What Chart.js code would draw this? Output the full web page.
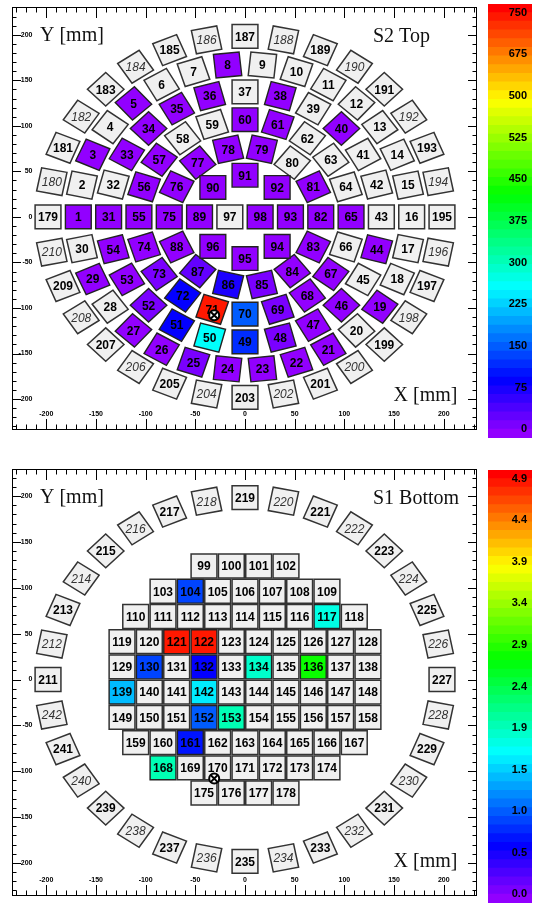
<!DOCTYPE html>
<html>
<head>
<meta charset="utf-8">
<script src="https://cdn.jsdelivr.net/npm/chart.js@4/dist/chart.umd.min.js"></script>
<style>
  html, body { margin: 0; padding: 0; background: #fff; width: 540px; height: 903px; overflow: hidden; }
  canvas { position: absolute; }
</style>
</head>
<body>
<canvas id="topMap" width="484" height="445" style="left:0px;top:0px"></canvas>
<canvas id="topBar" width="56" height="445" style="left:484px;top:0px"></canvas>
<canvas id="botMap" width="484" height="458" style="left:0px;top:445px"></canvas>
<canvas id="botBar" width="56" height="458" style="left:484px;top:445px"></canvas>
<script>
// ---- PMT array geometry (mm) ----
// Top array: concentric rings, numbered clockwise starting at 180 degrees
const topRingFirst  = [1, 31, 55, 75, 89, 97];
const topRingCount  = [30, 24, 20, 14, 8, 2];
const topRingRadius = [167.75, 137.25, 106.75, 76.25, 45.75, 15.25];
const topRingTilted = [true, true, true, true, false, false];
// Veto rings around each array
const vetoRadius = 198.25;
const vetoCount = 32;
const topVetoFirst = 179;
const bottomVetoFirst = 211;
// Bottom array: rows of a square grid, top row first
const bottomRowFirst = [99, 103, 110, 119, 129, 139, 149, 159, 168, 175];
const bottomRowCount = [4, 7, 9, 10, 10, 10, 10, 9, 7, 4];
const bottomPitch = 27.5;

// ---- Signals per PMT (null = no signal) ----
// S2 top, PMTs 1..98
const topS2 = [
  0, null, 0, null, 0, null, null, 0, null, null,        // 1-10
  null, null, null, null, null, null, null, null, 0, null, // 11-20
  0, 0, 0, 0, 7, 0, 0, null, 0, null,                    // 21-30
  0, null, 0, 0, 0, 0, null, 0, null, 0,                 // 31-40
  null, null, null, 0, null, 0, 0, 10, 117, 258,         // 41-50
  80, 11, 0, 0, 0, 0, 0, null, null, 0,                  // 51-60
  0, null, null, null, 0, null, 0, 0, 9, 150,            // 61-70
  742, 85, 10, 0, 0, 0, 0, 0, 0, null,                   // 71-80
  0, 0, 0, 0, 12, 68, 20, 0, 0, 0,                       // 81-90
  0, 0, 0, 0, 0, 0, null, 0                              // 91-98
];
// S1 bottom, PMTs 99..178
const bottomS1 = [
  null, null, null, null,                                        // 99-102
  null, 0.87, null, null, null, null, null,                      // 103-109
  null, null, null, null, null, null, null, 1.79, null,          // 110-118
  null, null, 4.85, 4.82, null, null, null, null, null, null,    // 119-128
  null, 0.85, null, 0.57, null, 1.89, null, 2.8, null, null,     // 129-138
  1.38, null, null, 1.58, null, null, null, null, null, null,    // 139-148
  null, null, null, 0.97, 1.99, null, null, null, null, null,    // 149-158
  null, null, 0.69, null, null, null, null, null, null,          // 159-167
  2.0, null, null, null, null, null, null,                       // 168-174
  null, null, null, null                                         // 175-178
];

// Source position (mm)
const sourceX = [-31];
const sourceY = [-108];

// Axis ranges (mm) and tick labels
const xRange = [-234.5, 233.5];
const topYRange = [-234, 230.5];
const bottomYRange = [-236, 229.5];
const axisLabels = [-200, -150, -100, -50, 0, 50, 100, 150, 200];

// Colour scales: 48 bands between the end labels plus one band beyond each end
const topZTicks  = [0, 75, 150, 225, 300, 375, 450, 525, 600, 675, 750];
const topZLabels = ['0', '75', '150', '225', '300', '375', '450', '525', '500', '675', '750'];
const bottomZTicks  = [0, 0.49, 0.98, 1.47, 1.96, 2.45, 2.94, 3.43, 3.92, 4.41, 4.9];
const bottomZLabels = ['0.0', '0.5', '1.0', '1.5', '1.9', '2.4', '2.9', '3.4', '3.9', '4.4', '4.9'];

// ---- styling ----
const PMT_SIZE = 26;
const NBANDS = 50;
const palette = Array.from({ length: NBANDS }, (_, i) => `hsl(${280 - (i + 1) * 5.6}, 100%, 50%)`);
const OFF_FILL = '#f0f0f0';
const SANS = '"Liberation Sans", Arial, sans-serif';
const SERIF = '"Liberation Serif", "Times New Roman", serif';

function zLimits(ticks) {
  const top = ticks[ticks.length - 1];
  const w = top / 48;
  return [-w, top + w];
}
function bandOf(v, lim) {
  const w = (lim[1] - lim[0]) / NBANDS;
  return Math.min(NBANDS - 1, Math.max(0, Math.ceil((v - lim[0]) / w - 1e-9) - 1));
}

// ---- build PMT lists ----
function ringPmts(first, count, radius, tilted, values, valueOffset) {
  const out = [];
  for (let k = 0; k < count; k++) {
    const ang = 180 - 360 / count * k;
    const a = ang * Math.PI / 180;
    const id = first + k;
    const v = values ? values[id - valueOffset] : null;
    out.push({ x: radius * Math.cos(a), y: radius * Math.sin(a), id, v: v === undefined ? null : v,
               rot: tilted ? ang : 0 });
  }
  return out;
}

const topPmts = [];
for (let r = 0; r < topRingFirst.length; r++) {
  topPmts.push(...ringPmts(topRingFirst[r], topRingCount[r], topRingRadius[r], topRingTilted[r], topS2, 1));
}
ringPmts(topVetoFirst, vetoCount, vetoRadius, true, null, 0).forEach(p => { p.italic = p.id % 2 === 0; topPmts.push(p); });

const bottomPmts = [];
for (let r = 0; r < bottomRowFirst.length; r++) {
  const n = bottomRowCount[r];
  const y = bottomPitch * ((bottomRowFirst.length - 1) / 2 - r);
  for (let j = 0; j < n; j++) {
    const id = bottomRowFirst[r] + j;
    bottomPmts.push({ x: bottomPitch * (j - (n - 1) / 2), y, id, v: bottomS1[id - 99], rot: 0 });
  }
}
ringPmts(bottomVetoFirst, vetoCount, vetoRadius, true, null, 0).forEach(p => { p.italic = p.id % 2 === 0; bottomPmts.push(p); });

const sourcePoints = sourceX.map((x, i) => ({ x, y: sourceY[i] }));

// ---- PMT map chart ----
function makeMap(canvasId, pmts, yRange, zTicks, pad, panelTitle) {
  const lim = zLimits(zTicks);

  const boxPlugin = {
    id: 'pmtBoxes',
    beforeDatasetsDraw(chart) {
      const ctx = chart.ctx, xs = chart.scales.x, ys = chart.scales.y;
      const h = PMT_SIZE / 2;
      const pts = chart.data.datasets[0].data;
      ctx.save();
      for (const p of pts) {
        const a = p.rot * Math.PI / 180, c = Math.cos(a), s = Math.sin(a);
        ctx.beginPath();
        [[-h, -h], [h, -h], [h, h], [-h, h]].forEach(([u, w], i) => {
          const px = xs.getPixelForValue(p.x + u * c - w * s);
          const py = ys.getPixelForValue(p.y + u * s + w * c);
          if (i === 0) ctx.moveTo(px, py); else ctx.lineTo(px, py);
        });
        ctx.closePath();
        ctx.fillStyle = p.v === null ? OFF_FILL : palette[bandOf(p.v, lim)];
        ctx.fill();
        ctx.lineWidth = p.v === null ? 1.5 : 1.4;
        ctx.strokeStyle = p.v === null ? '#333' : '#222';
        ctx.stroke();
        ctx.font = p.italic ? `italic 12px ${SANS}` : `bold 12px ${SANS}`;
        ctx.fillStyle = p.italic ? '#333' : '#000';
        ctx.textAlign = 'center';
        ctx.textBaseline = 'middle';
        ctx.fillText(String(p.id), xs.getPixelForValue(p.x), ys.getPixelForValue(p.y) + 1);
      }
      ctx.restore();
    }
  };

  const framePlugin = {
    id: 'frame',
    afterDraw(chart) {
      const ctx = chart.ctx, xs = chart.scales.x, ys = chart.scales.y, ca = chart.chartArea;
      ctx.save();
      ctx.strokeStyle = '#000';
      ctx.lineWidth = 1;
      ctx.strokeRect(ca.left + 0.5, ca.top + 0.5, ca.right - ca.left - 1, ca.bottom - ca.top - 1);
      ctx.beginPath();
      for (let v = Math.ceil(xRange[0] / 10) * 10; v <= xRange[1]; v += 10) {
        const px = Math.round(xs.getPixelForValue(v)) + 0.5;
        const len = v % 50 === 0 ? 11 : 5.5;
        ctx.moveTo(px, ca.bottom); ctx.lineTo(px, ca.bottom - len);
        ctx.moveTo(px, ca.top); ctx.lineTo(px, ca.top + len);
      }
      for (let v = Math.ceil(yRange[0] / 10) * 10; v <= yRange[1]; v += 10) {
        const py = Math.round(ys.getPixelForValue(v)) + 0.5;
        const len = v % 50 === 0 ? 9 : 4.5;
        ctx.moveTo(ca.left, py); ctx.lineTo(ca.left + len, py);
        ctx.moveTo(ca.right, py); ctx.lineTo(ca.right - len, py);
      }
      ctx.stroke();

      ctx.fillStyle = '#000';
      ctx.font = `bold 7px ${SANS}`;
      ctx.textBaseline = 'middle';
      ctx.textAlign = 'center';
      axisLabels.forEach(v => ctx.fillText(String(v), xs.getPixelForValue(v), ca.bottom - 16));
      ctx.textAlign = 'right';
      axisLabels.forEach(v => ctx.fillText(String(v), ca.left + 20.5, ys.getPixelForValue(v)));

      ctx.font = `20px ${SERIF}`;
      ctx.fillStyle = '#111';
      ctx.textAlign = 'left';
      ctx.fillText('Y [mm]', ca.left + 28, ca.top + 29);
      ctx.fillText(panelTitle, 373, ca.top + 29.5);
      ctx.textAlign = 'right';
      ctx.fillText('X [mm]', ca.right - 19.5, ca.bottom - 34);
      ctx.restore();
    }
  };

  // datasets with a lower index are painted last, so the cross sits above the ring
  return new Chart(document.getElementById(canvasId), {
    type: 'scatter',
    data: {
      datasets: [
        { label: 'PMT', data: pmts, pointRadius: 0, pointHoverRadius: 0 },
        { label: 'source mark', data: sourcePoints, pointStyle: 'crossRot', pointRadius: 5,
          borderColor: '#000', borderWidth: 2 },
        { label: 'source', data: sourcePoints, pointStyle: 'circle', pointRadius: 5,
          backgroundColor: '#fff', borderColor: '#000', borderWidth: 2 }
      ]
    },
    options: {
      responsive: false,
      animation: false,
      events: [],
      layout: { padding: pad },
      scales: {
        x: { type: 'linear', min: xRange[0], max: xRange[1], display: false },
        y: { type: 'linear', min: yRange[0], max: yRange[1], display: false }
      },
      plugins: { legend: { display: false }, tooltip: { enabled: false } }
    },
    plugins: [boxPlugin, framePlugin]
  });
}

// ---- colour bar chart ----
function makeBar(canvasId, zTicks, zLabels, pad) {
  const lim = zLimits(zTicks);
  const w = (lim[1] - lim[0]) / NBANDS;
  const datasets = palette.map((col, i) => ({
    data: [[lim[0] + i * w, lim[0] + (i + 1) * w]],
    backgroundColor: col,
    borderWidth: 0,
    inflateAmount: 0.5,
    grouped: false,
    barPercentage: 1,
    categoryPercentage: 1
  }));
  const labelPlugin = {
    id: 'barLabels',
    afterDatasetsDraw(chart) {
      const ctx = chart.ctx, ys = chart.scales.y, ca = chart.chartArea;
      ctx.save();
      ctx.fillStyle = '#000';
      ctx.font = `bold 11px ${SANS}`;
      ctx.textAlign = 'right';
      ctx.textBaseline = 'middle';
      zTicks.forEach((t, i) => ctx.fillText(zLabels[i], ca.right - 5, ys.getPixelForValue(t)));
      ctx.restore();
    }
  };
  return new Chart(document.getElementById(canvasId), {
    type: 'bar',
    data: { labels: [''], datasets },
    options: {
      responsive: false,
      animation: false,
      events: [],
      layout: { padding: pad },
      scales: {
        x: { display: false },
        y: { type: 'linear', min: lim[0], max: lim[1], display: false }
      },
      plugins: { legend: { display: false }, tooltip: { enabled: false } }
    },
    plugins: [labelPlugin]
  });
}

makeMap('topMap', topPmts, topYRange, topZTicks, { left: 12, right: 3.5, top: 3.7, bottom: 15 }, 'S2 Top');
makeBar('topBar', topZTicks, topZLabels, { left: 4, right: 8, top: 4, bottom: 7 });
makeMap('botMap', bottomPmts, bottomYRange, bottomZTicks, { left: 12, right: 3.5, top: 24, bottom: 6 }, 'S1 Bottom');
makeBar('botBar', bottomZTicks, bottomZLabels, { left: 4, right: 8, top: 25, bottom: 0 });
</script>
</body>
</html>
